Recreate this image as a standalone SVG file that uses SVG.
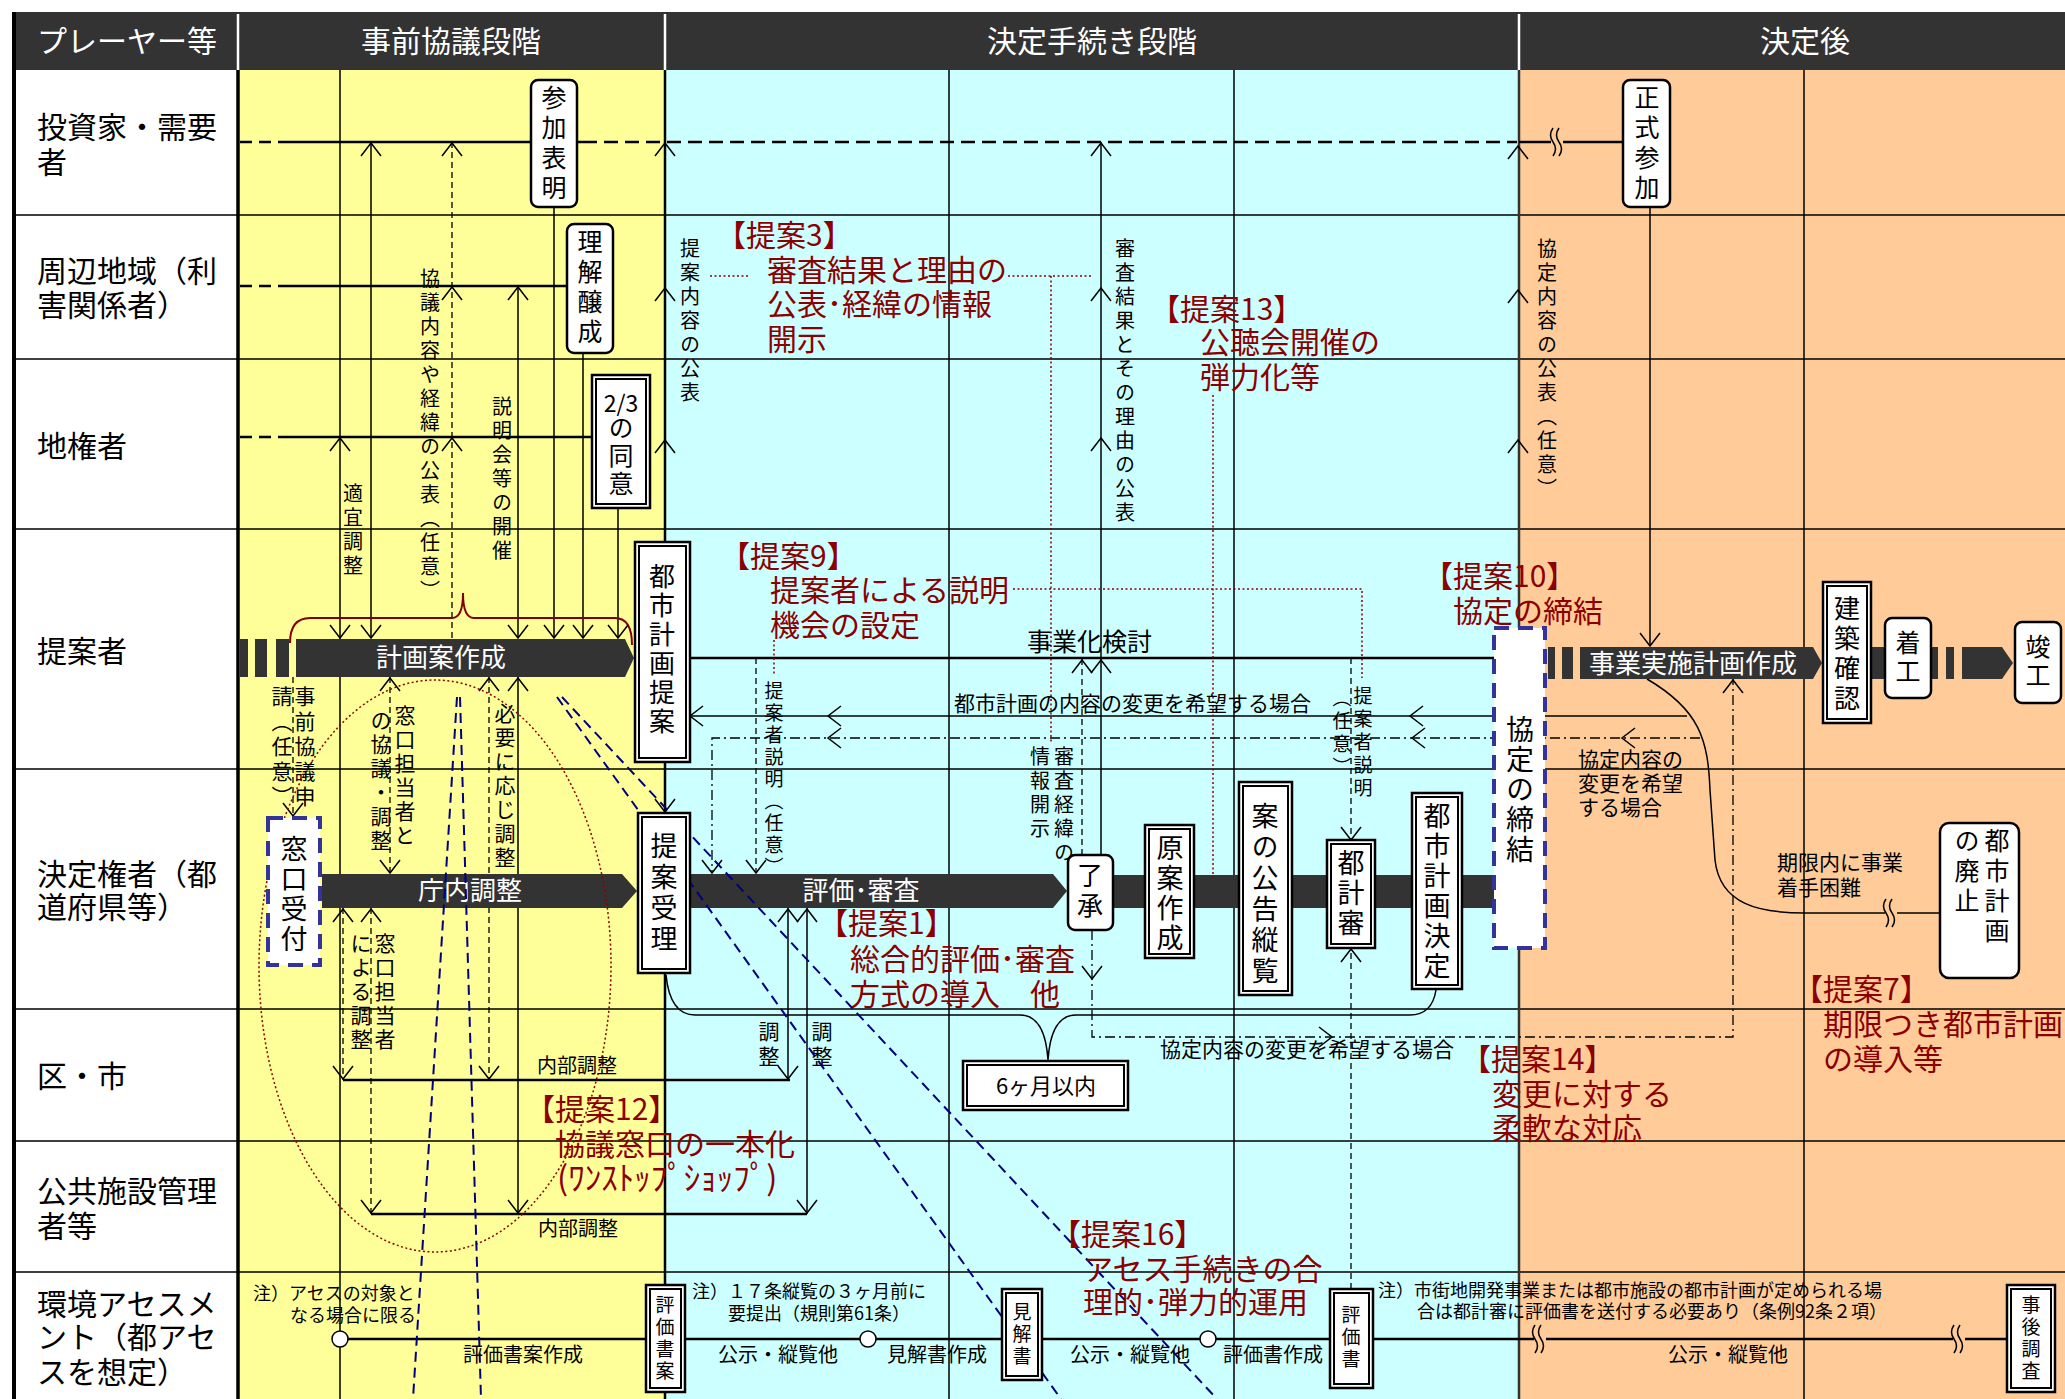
<svg xmlns="http://www.w3.org/2000/svg" xmlns:xlink="http://www.w3.org/1999/xlink" width="2065" height="1399" viewBox="0 0 2065 1399">
<style>
text{font-family:"Noto Sans CJK JP","Noto Sans CJK SC",sans-serif;fill:#000}
.hd{font-size:30px;fill:#fff}
.rl{font-size:30px}
.v{writing-mode:vertical-rl}
.f19{font-size:19px}.f20{font-size:20px}.f21{font-size:21px}.f18{font-size:18px}
.f25{font-size:25px}.f26{font-size:26px}.f27{font-size:27px}.f28{font-size:28px}
.ls3{letter-spacing:3px}.ls4{letter-spacing:4px}.ls5{letter-spacing:5px}.ls2{letter-spacing:2px}
.bt{font-size:26px;fill:#fff}
.pb{font-size:30px;fill:#8B0000}
.grid{stroke:#000;stroke-width:1.5;fill:none}
.ln{stroke:#000;stroke-width:1.5;fill:none}
.lnk{stroke:#000;stroke-width:2.5;fill:none}
.dsh{stroke:#000;stroke-width:1.3;fill:none;stroke-dasharray:6 4}
.dd{stroke:#000;stroke-width:1.3;fill:none;stroke-dasharray:10 4 2 4}
.bigd{stroke:#000;stroke-width:2.5;fill:none;stroke-dasharray:14 7}
.rd{stroke:#8B0000;stroke-width:1.5;fill:none;stroke-dasharray:2 2.5}
.bl{stroke:#000080;stroke-width:2;fill:none;stroke-dasharray:10 6}
.ah{fill:none;stroke:#000;stroke-width:1.5}
.bar{fill:#333}
.rb{fill:#fff;stroke:#000;stroke-width:2.5}
.b2o{fill:#fff;stroke:#000;stroke-width:2.5}
.b2i{fill:none;stroke:#000;stroke-width:2}
.bd{fill:#fff;stroke:#333399;stroke-width:4;stroke-dasharray:15 9}
</style>
<defs>
<path id="au" class="ah" d="M-10,13 L0,0 L10,13"/>
<path id="ad" class="ah" d="M-10,-13 L0,0 L10,-13"/>
<path id="al" class="ah" d="M13,-10 L0,0 L13,10"/>
<path id="ar" class="ah" d="M-13,-10 L0,0 L-13,10"/>
<path id="brk" fill="none" stroke="#000" stroke-width="1.5" d="M0,-14 q-5,7 0,14 q5,7 0,14 M6,-14 q-5,7 0,14 q5,7 0,14"/>
</defs>

<g id="background">
<rect x="0" y="0" width="2065" height="1399" fill="#fff"/>
<rect x="238" y="70" width="427" height="1329" fill="#FFFF99"/>
<rect x="665" y="70" width="854" height="1329" fill="#CCFFFF"/>
<rect x="1519" y="70" width="546" height="1329" fill="#FFCC99"/>
<rect x="14" y="12" width="2051" height="58" fill="#333"/>
<path d="M238,14 V70 M665,14 V70 M1519,14 V70" stroke="#fff" stroke-width="2.5"/>
<text class="hd" x="37" y="52">プレーヤー等</text>
<text class="hd" x="451" y="52" text-anchor="middle">事前協議段階</text>
<text class="hd" x="1092" y="52" text-anchor="middle">決定手続き段階</text>
<text class="hd" x="1805" y="52" text-anchor="middle">決定後</text>
<path class="grid" d="M14,215 H2065 M14,359 H2065 M14,529 H2065 M14,769 H2065 M14,1009 H2065 M14,1141 H2065 M14,1272 H2065"/>
<path class="grid" d="M340,70 V1399 M949,70 V1399 M1234,70 V1399 M1804,70 V1399"/>
<path d="M14,12 V1399" stroke="#000" stroke-width="4"/>
<path d="M238,70 V1399" stroke="#000" stroke-width="3.5"/>
<path d="M665,70 V1399" stroke="#000" stroke-width="2.5"/>
<path d="M1519,70 V1399" stroke="#333" stroke-width="2.5"/>
</g>

<g id="row-labels">
<text class="rl"><tspan x="37" y="138">投資家・需要</tspan><tspan x="37" y="173">者</tspan></text>
<text class="rl"><tspan x="37" y="282">周辺地域（利</tspan><tspan x="37" y="316">害関係者）</tspan></text>
<text class="rl" x="37" y="457">地権者</text>
<text class="rl" x="37" y="662">提案者</text>
<text class="rl"><tspan x="37" y="885">決定権者（都</tspan><tspan x="37" y="918">道府県等）</tspan></text>
<text class="rl" x="37" y="1087">区・市</text>
<text class="rl"><tspan x="37" y="1202">公共施設管理</tspan><tspan x="37" y="1237">者等</tspan></text>
<text class="rl"><tspan x="37" y="1315">環境アセスメ</tspan><tspan x="37" y="1348">ント（都アセ</tspan><tspan x="37" y="1383">スを想定）</tspan></text>
</g>

<g id="connectors">
<path d="M240,142 H283 M240,286 H278 M240,437 H283" stroke="#000" stroke-width="2.5" stroke-dasharray="12 7" fill="none"/>
<path class="lnk" d="M283,142 H531 M577,142 H583 M278,286 H567 M283,437 H592"/>
<path class="bigd" d="M583,142 H1517"/>
<path class="lnk" d="M1519,142 H1551 M1563,142 H1623"/>
<use href="#brk" x="1553" y="142"/>
<path class="ln" d="M371,142 V638 M518,286 V638 M554,207 V638 M583,353 V638 M618,508 V638"/>
<path class="dsh" d="M452,142 V639"/>
<path class="dsh" d="M293,677 V816 M390,677 V873 M489,677 V1080 M343,908 V1080 M371,908 V1214"/>
<path class="ln" d="M518,677 V1214 M788,908 V1080 M807,908 V1214"/>
<path class="lnk" stroke-width="2" d="M343,1080 H790 M371,1214 H807"/>
<path class="lnk" d="M690,658 H1494"/>
<path class="dsh" d="M756,658 V873 M1082,855 V658 M1351,658 V840 M1351,1289 V948"/>
<path class="ln" stroke="#333" d="M1687,716 H690"/>
<path class="dd" d="M1700,738 H712 V873"/>
<path class="ln" stroke="#333" d="M1101,855 V142"/>
<path class="dd" d="M1092,930 V1037 H1733 V679"/>
<path class="ln" d="M666,975 Q670,1015 695,1015 H1020 Q1045,1015 1048,1060 Q1051,1015 1076,1015 H1410 Q1432,1015 1436,990"/>
<path class="ln" d="M1650,207 V646"/>
<path class="ln" d="M1647,679 C1700,710 1708,740 1710,790 L1715,860 C1720,905 1760,913 1805,913 H1885 M1897,913 H1940"/>
<use href="#brk" x="1886" y="913"/>
<path d="M290,643 Q290,618 310,618 H452 Q463,618 463,593 Q463,618 474,618 H615 Q632,618 632,645" fill="none" stroke="#800000" stroke-width="2"/>
<use href="#au" x="371" y="143"/><use href="#au" x="452" y="143"/><use href="#au" x="665" y="143"/><use href="#au" x="1101" y="143"/><use href="#au" x="1518" y="146"/>
<use href="#au" x="452" y="287"/><use href="#au" x="518" y="287"/><use href="#au" x="665" y="288"/><use href="#au" x="1101" y="288"/><use href="#au" x="1518" y="290"/>
<use href="#au" x="340" y="438"/><use href="#au" x="452" y="438"/><use href="#au" x="665" y="440"/><use href="#au" x="1101" y="438"/><use href="#au" x="1518" y="440"/>
<use href="#au" x="1082" y="660"/><use href="#au" x="1101" y="660"/>
<use href="#au" x="390" y="678"/><use href="#au" x="489" y="678"/><use href="#au" x="518" y="678"/>
<use href="#au" x="343" y="909"/><use href="#au" x="371" y="909"/><use href="#au" x="788" y="909"/><use href="#au" x="807" y="909"/>
<use href="#au" x="1733" y="680"/><use href="#au" x="1351" y="949"/>
<use href="#ad" x="340" y="638"/><use href="#ad" x="371" y="638"/><use href="#ad" x="518" y="638"/><use href="#ad" x="554" y="638"/><use href="#ad" x="583" y="638"/><use href="#ad" x="618" y="638"/>
<use href="#ad" x="293" y="816"/><use href="#ad" x="390" y="873"/><use href="#ad" x="489" y="1079"/><use href="#ad" x="518" y="1213"/><use href="#ad" x="343" y="1079"/><use href="#ad" x="371" y="1213"/><use href="#ad" x="788" y="1079"/><use href="#ad" x="807" y="1213"/>
<use href="#ad" x="665" y="812"/><use href="#ad" x="756" y="873"/><use href="#ad" x="712" y="873"/><use href="#ad" x="1351" y="840"/><use href="#ad" x="1650" y="646"/><use href="#ad" x="1092" y="979"/>
<use href="#al" x="690" y="716"/><use href="#al" x="828" y="716"/><use href="#al" x="1410" y="716"/>
<use href="#al" x="828" y="738"/><use href="#al" x="1412" y="738"/><use href="#al" x="1622" y="738"/>
<use href="#ar" x="1332" y="1037"/>
<path class="lnk" stroke-width="2" d="M340,1339 H646 M685,1339 H1002 M1042,1339 H1330 M1373,1339 H1534 M1546,1339 H1953 M1965,1339 H2007"/>
<use href="#brk" x="1535" y="1339"/>
<use href="#brk" x="1954" y="1339"/>
<circle cx="340" cy="1339" r="8" fill="#fff" stroke="#000" stroke-width="1.5"/>
<circle cx="868" cy="1339" r="8" fill="#fff" stroke="#000" stroke-width="1.5"/>
<circle cx="1208" cy="1339" r="8" fill="#fff" stroke="#000" stroke-width="1.5"/>
</g>

<g id="bars">
<rect class="bar" x="240" y="639" width="8" height="38"/><rect class="bar" x="255" y="639" width="12" height="38"/><rect class="bar" x="276" y="639" width="13" height="38"/>
<polygon class="bar" points="296,639 625,639 634,658 625,677 296,677"/>
<text class="bt" x="441" y="667" text-anchor="middle">計画案作成</text>
<polygon class="bar" points="322,874 622,874 637,891 622,908 322,908"/>
<text class="bt" x="470" y="900" text-anchor="middle">庁内調整</text>
<polygon class="bar" points="690,874 1053,874 1067,891 1053,908 690,908"/>
<rect class="bar" x="1113" y="875" width="381" height="33"/>
<text class="bt" x="861" y="900" text-anchor="middle">評価･審査</text>
<rect class="bar" x="1548" y="647" width="7" height="32"/><rect class="bar" x="1562" y="647" width="11" height="32"/>
<polygon class="bar" points="1580,647 1813,647 1822,663 1813,679 1580,679"/>
<text class="bt" x="1693" y="673" text-anchor="middle">事業実施計画作成</text>
<rect class="bar" x="1871" y="647" width="14" height="32"/>
<rect class="bar" x="1931" y="647" width="7" height="32"/><rect class="bar" x="1946" y="647" width="8" height="32"/>
<polygon class="bar" points="1962,647 2002,647 2013,663 2002,679 1962,679"/>
</g>

<g id="proposal-marks">
<ellipse cx="435" cy="966" rx="176" ry="286" class="rd"/>
<path class="rd" d="M710,276 H748 M1008,276 H1093 M1051,276 V742 M1213,395 V878 M1013,589 H1362 V678 M774,640 V675"/>
<path class="bl" d="M457,697 L413,1399 M460,697 L481,1399 M557,697 L1061,1399 M562,697 L1217,1399"/>
</g>

<g id="n-sanka"><rect class="rb" x="531" y="80" width="46" height="127" rx="7"/><text class="v f25 ls5" x="554" y="85">参加表明</text></g>
<g id="n-rikai"><rect class="rb" x="567" y="224" width="46" height="129" rx="7"/><text class="v f25 ls5" x="590" y="229">理解醸成</text></g>
<g id="n-doui"><rect class="b2o" x="592" y="375" width="58" height="133"/><rect class="b2i" x="596" y="379" width="50" height="125"/><text style="font-size:23px" x="621" y="412" text-anchor="middle">2/3</text><text class="v f25 ls3" x="621" y="415">の同意</text></g>
<g id="n-teian"><rect class="b2o" x="635" y="542" width="55" height="220"/><rect class="b2i" x="639" y="546" width="47" height="212"/><text class="v f26 ls3" x="662" y="563">都市計画提案</text></g>
<g id="n-juri"><rect class="b2o" x="638" y="813" width="52" height="160"/><rect class="b2i" x="642" y="817" width="44" height="152"/><text class="v f27 ls4" x="664" y="832">提案受理</text></g>
<g id="n-madoguchi"><rect class="bd" x="268" y="818" width="52" height="147"/><text class="v f27 ls3" x="294" y="835">窓口受付</text></g>
<g id="n-shonin"><rect class="rb" x="1068" y="855" width="45" height="75" rx="7"/><text class="v f26 ls4" x="1090" y="862">了承</text></g>
<g id="n-gen"><rect class="b2o" x="1145" y="825" width="49" height="133"/><rect class="b2i" x="1149" y="829" width="41" height="125"/><text class="v f27 ls3" x="1170" y="834">原案作成</text></g>
<g id="n-koukoku"><rect class="b2o" x="1239" y="782" width="53" height="213"/><rect class="b2i" x="1243" y="786" width="45" height="205"/><text class="v f27 ls4" x="1265" y="802">案の公告縦覧</text></g>
<g id="n-tokeishin"><rect class="b2o" x="1327" y="840" width="48" height="108"/><rect class="b2i" x="1331" y="844" width="40" height="100"/><text class="v f27 ls3" x="1351" y="849">都計審</text></g>
<g id="n-kettei"><rect class="b2o" x="1412" y="793" width="50" height="196"/><rect class="b2i" x="1416" y="797" width="42" height="188"/><text class="v f27 ls3" x="1437" y="802">都市計画決定</text></g>
<g id="n-kyotei"><rect class="bd" x="1494" y="628" width="51" height="320"/><text class="v f28 ls2" x="1520" y="715">協定の締結</text></g>
<g id="n-seishiki"><rect class="rb" x="1623" y="80" width="47" height="127" rx="7"/><text class="v f25 ls5" x="1647" y="85">正式参加</text></g>
<g id="n-kenchiku"><rect class="b2o" x="1823" y="582" width="48" height="141"/><rect class="b2i" x="1827" y="586" width="40" height="133"/><text class="v f26 ls4" x="1847" y="595">建築確認</text></g>
<g id="n-chakko"><rect class="rb" x="1885" y="618" width="46" height="80" rx="7"/><text class="v f25 ls4" x="1908" y="630">着工</text></g>
<g id="n-shunko"><rect class="rb" x="2015" y="622" width="46" height="81" rx="7"/><text class="v f25 ls4" x="2038" y="634">竣工</text></g>
<g id="n-haishi"><rect class="rb" x="1940" y="823" width="79" height="155" rx="9"/><text class="v f25 ls5" x="1997" y="828">都市計画</text><text class="v f25 ls5" x="1967" y="828">の廃止</text></g>
<g id="n-6m"><rect class="b2o" x="963" y="1061" width="165" height="49"/><rect class="b2i" x="967" y="1065" width="157" height="41"/><text style="font-size:22px" x="1046" y="1094" text-anchor="middle">6ヶ月以内</text></g>
<g id="n-hyokasho-an"><rect class="b2o" x="646" y="1285" width="39" height="107"/><rect class="b2i" x="650" y="1289" width="31" height="99"/><text class="v f19 ls3" x="665" y="1295">評価書案</text></g>
<g id="n-kenkaisho"><rect class="b2o" x="1002" y="1289" width="40" height="91"/><rect class="b2i" x="1006" y="1293" width="32" height="83"/><text class="v f19 ls3" x="1022" y="1302">見解書</text></g>
<g id="n-hyokasho"><rect class="b2o" x="1330" y="1289" width="43" height="99"/><rect class="b2i" x="1334" y="1293" width="35" height="91"/><text class="v f19 ls3" x="1351" y="1305">評価書</text></g>
<g id="n-jigo"><rect class="b2o" x="2007" y="1285" width="48" height="107"/><rect class="b2i" x="2011" y="1289" width="40" height="99"/><text class="v f19 ls3" x="2031" y="1295">事後調査</text></g>

<g id="labels">
<text class="v f20 ls4" x="690" y="238">提案内容の公表</text>
<text class="v f20 ls4" x="1125" y="238">審査結果とその理由の公表</text>
<text class="v f20 ls4" x="430" y="268">協議内容や経緯の公表（任意）</text>
<text class="v f20 ls4" x="502" y="396">説明会等の開催</text>
<text class="v f20 ls4" x="353" y="483">適宜調整</text>
<text class="v f20 ls4" x="1547" y="238">協定内容の公表（任意）</text>
<text class="v f21 ls4" x="305" y="686">事前協議申</text>
<text class="v f21 ls4" x="282" y="686">請（任意）</text>
<text class="v f21 ls3" x="405" y="705">窓口担当者と</text>
<text class="v f21 ls3" x="381" y="710">の協議・調整</text>
<text class="v f21 ls3" x="505" y="703">必要に応じ調整</text>
<text class="v f21 ls3" x="385" y="933">窓口担当者</text>
<text class="v f21 ls3" x="361" y="933">による調整</text>
<text class="v f21 ls4" x="769" y="1021">調整</text>
<text class="v f21 ls4" x="822" y="1021">調整</text>
<text class="v f19 ls3" x="774" y="681">提案者説明（任意）</text>
<text class="v f20 ls4" x="1064" y="746">審査経緯の</text>
<text class="v f20 ls4" x="1040" y="746">情報開示</text>
<text class="v f19 ls4" x="1363" y="686">提案者説明</text>
<text class="v f19 ls4" x="1342" y="688">（任意）</text>
<text style="font-size:25px" x="1027" y="651">事業化検討</text>
<text class="f21" x="954" y="711">都市計画の内容の変更を希望する場合</text>
<text class="f21" x="1160" y="1057">協定内容の変更を希望する場合</text>
<text class="f21"><tspan x="1578" y="767">協定内容の</tspan><tspan x="1578" y="791">変更を希望</tspan><tspan x="1578" y="815">する場合</tspan></text>
<text class="f21"><tspan x="1777" y="870">期限内に事業</tspan><tspan x="1777" y="895">着手困難</tspan></text>
<text class="f20" x="537" y="1073">内部調整</text>
<text class="f20" x="538" y="1236">内部調整</text>
<text class="f18"><tspan x="253" y="1300">注）アセスの対象と</tspan><tspan x="290" y="1322">なる場合に限る</tspan></text>
<text class="f18"><tspan x="692" y="1298">注）１７条縦覧の３ヶ月前に</tspan><tspan x="728" y="1320">要提出（規則第61条）</tspan></text>
<text class="f18"><tspan x="1378" y="1297">注）市街地開発事業または都市施設の都市計画が定められる場</tspan><tspan x="1417" y="1318">合は都計審に評価書を送付する必要あり（条例92条２項）</tspan></text>
<text class="f20" x="463" y="1362">評価書案作成</text>
<text class="f20" x="718" y="1362">公示・縦覧他</text>
<text class="f20" x="887" y="1362">見解書作成</text>
<text class="f20" x="1070" y="1362">公示・縦覧他</text>
<text class="f20" x="1223" y="1362">評価書作成</text>
<text class="f20" x="1668" y="1362">公示・縦覧他</text>
</g>

<g id="proposals">
<text class="pb"><tspan x="716" y="246">【提案3】</tspan><tspan x="767" y="281">審査結果と理由の</tspan><tspan x="767" y="315">公表･経緯の情報</tspan><tspan x="767" y="350">開示</tspan></text>
<text class="pb"><tspan x="1150" y="320">【提案13】</tspan><tspan x="1200" y="353">公聴会開催の</tspan><tspan x="1200" y="388">弾力化等</tspan></text>
<text class="pb"><tspan x="720" y="567">【提案9】</tspan><tspan x="770" y="601">提案者による説明</tspan><tspan x="770" y="636">機会の設定</tspan></text>
<text class="pb"><tspan x="1423" y="587">【提案10】</tspan><tspan x="1453" y="622">協定の締結</tspan></text>
<text class="pb"><tspan x="818" y="934">【提案1】</tspan><tspan x="850" y="970">総合的評価･審査</tspan><tspan x="850" y="1005">方式の導入　他</tspan></text>
<text class="pb"><tspan x="525" y="1120">【提案12】</tspan><tspan x="555" y="1155">協議窓口の一本化</tspan><tspan x="557" y="1190" style="font-size:33px">(ﾜﾝｽﾄｯﾌﾟｼｮｯﾌﾟ)</tspan></text>
<text class="pb"><tspan x="1461" y="1070">【提案14】</tspan><tspan x="1492" y="1105">変更に対する</tspan><tspan x="1492" y="1139">柔軟な対応</tspan></text>
<text class="pb"><tspan x="1793" y="1000">【提案7】</tspan><tspan x="1823" y="1035">期限つき都市計画</tspan><tspan x="1823" y="1070">の導入等</tspan></text>
<text class="pb"><tspan x="1051" y="1245">【提案16】</tspan><tspan x="1083" y="1280">アセス手続きの合</tspan><tspan x="1083" y="1313">理的･弾力的運用</tspan></text>
</g>
</svg>
